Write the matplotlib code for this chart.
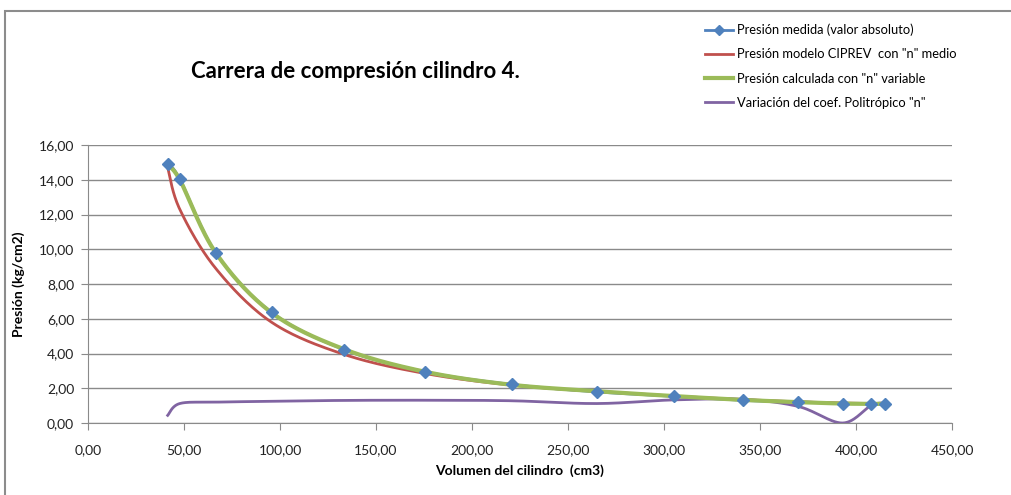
import numpy as np
import matplotlib
matplotlib.use("Agg")
from matplotlib import pyplot as plt
from matplotlib.ticker import FuncFormatter, MultipleLocator
from matplotlib.patches import Rectangle

plt.rcParams['font.family'] = ['Lato', 'DejaVu Sans']

# datos
volumen = [41.5, 47.8, 66.5, 95.6, 133.3, 175.5, 220.6, 265.0, 305.0, 341.0, 370.0, 393.0, 408.0, 415.3]
p_medida = [14.92, 14.05, 9.80, 6.37, 4.23, 2.95, 2.22, 1.79, 1.54, 1.30, 1.22, 1.12, 1.12, 1.12]
p_ciprev = [14.70, 12.30, 8.90, 5.80, 3.95, 2.85, 2.18, 1.82, 1.55, 1.35, 1.22, 1.15, 1.12, 1.10]
p_variable = [14.80, 14.00, 9.80, 6.35, 4.25, 2.95, 2.20, 1.83, 1.55, 1.33, 1.20, 1.12, 1.10, 1.10]
n_coef = [0.44, 1.12, 1.20, 1.25, 1.30, 1.31, 1.28, 1.12, 1.33, 1.36, 0.95, 0.00, 1.02, 1.15]

etiquetas = ['Presión medida (valor absoluto)',
             'Presión modelo CIPREV  con "n" medio',
             'Presión calculada con "n" variable',
             'Variación del coef. Politrópico "n"']


def suavizar(x, y, pasos=30):
    # curva suave tipo Excel (Catmull-Rom)
    x = np.asarray(x, float)
    y = np.asarray(y, float)
    px = np.concatenate([[x[0]], x, [x[-1]]])
    py = np.concatenate([[y[0]], y, [y[-1]]])
    xs, ys = [], []
    t = np.linspace(0, 1, pasos)
    for i in range(1, len(px) - 2):
        p0x, p1x, p2x, p3x = px[i - 1], px[i], px[i + 1], px[i + 2]
        p0y, p1y, p2y, p3y = py[i - 1], py[i], py[i + 1], py[i + 2]
        c1x, c1y = p1x + (p2x - p0x) / 6, p1y + (p2y - p0y) / 6
        c2x, c2y = p2x - (p3x - p1x) / 6, p2y - (p3y - p1y) / 6
        bx = (1 - t) ** 3 * p1x + 3 * (1 - t) ** 2 * t * c1x + 3 * (1 - t) * t ** 2 * c2x + t ** 3 * p2x
        by = (1 - t) ** 3 * p1y + 3 * (1 - t) ** 2 * t * c1y + 3 * (1 - t) * t ** 2 * c2y + t ** 3 * p2y
        xs.extend(bx)
        ys.extend(by)
    return np.array(xs), np.array(ys)


fig = plt.figure(figsize=(10.11, 4.95), dpi=100)
ax = fig.add_axes([88 / 1011, 1 - 423 / 495, (952 - 88) / 1011, (423 - 145) / 495])

# borde del area del grafico
fig.patches.append(Rectangle((5 / 1011, -0.1), 1.1, 1 - 11 / 495 + 0.1, transform=fig.transFigure,
                             fill=False, edgecolor='#8c8c8c', linewidth=1.5))

azul, rojo, verde, morado = '#4F81BD', '#C0504D', '#9BBB59', '#8064A2'

sx, sy = suavizar(volumen, p_medida)
ax.plot(sx, sy, color=azul, lw=2, zorder=3)
ax.plot(volumen, p_medida, ls='none', marker='D', ms=6.5, color=azul, zorder=6)
ax.plot([], [], color=azul, lw=2, marker='D', ms=5.5, label=etiquetas[0])

sx, sy = suavizar(volumen, p_ciprev)
ax.plot(sx, sy, color=rojo, lw=2, zorder=4, label=etiquetas[1])
sx, sy = suavizar(volumen, p_variable)
ax.plot(sx, sy, color=verde, lw=3, zorder=5, label=etiquetas[2])
sx, sy = suavizar(volumen, n_coef)
ax.plot(sx, sy, color=morado, lw=2, zorder=4, label=etiquetas[3])

ax.set_xlim(0, 450)
ax.set_ylim(0, 16)
ax.xaxis.set_major_locator(MultipleLocator(50))
ax.yaxis.set_major_locator(MultipleLocator(2))
coma = FuncFormatter(lambda v, p: f"{v:.2f}".replace('.', ','))
ax.xaxis.set_major_formatter(coma)
ax.yaxis.set_major_formatter(coma)
ax.grid(axis='y', color='#8a8a8a', lw=1)
ax.set_axisbelow(True)
for s in ['top', 'right']:
    ax.spines[s].set_visible(False)
for s in ['left', 'bottom']:
    ax.spines[s].set_color('#8a8a8a')
ax.tick_params(axis='both', colors='#8a8a8a', labelcolor='#222222', labelsize=10, length=5)
ax.tick_params(axis='x', pad=10)
ax.tick_params(axis='y', pad=5)

ax.set_xlabel('Volumen del cilindro  (cm3)', fontsize=10, fontweight='bold', labelpad=6)
ax.set_ylabel('Presión (kg/cm2)', fontsize=10, fontweight='bold', labelpad=10)

fig.text(355 / 1011, 1 - 72 / 495, 'Carrera de compresión cilindro 4.', fontsize=16,
         fontweight='bold', ha='center', va='center')

fig.legend(loc='upper left', bbox_to_anchor=(693 / 1011, 1 - 12 / 495), frameon=False,
           fontsize=9.3, handlelength=2.2, handletextpad=0.3, labelspacing=0.95)

fig.savefig('out.png', dpi=100)
